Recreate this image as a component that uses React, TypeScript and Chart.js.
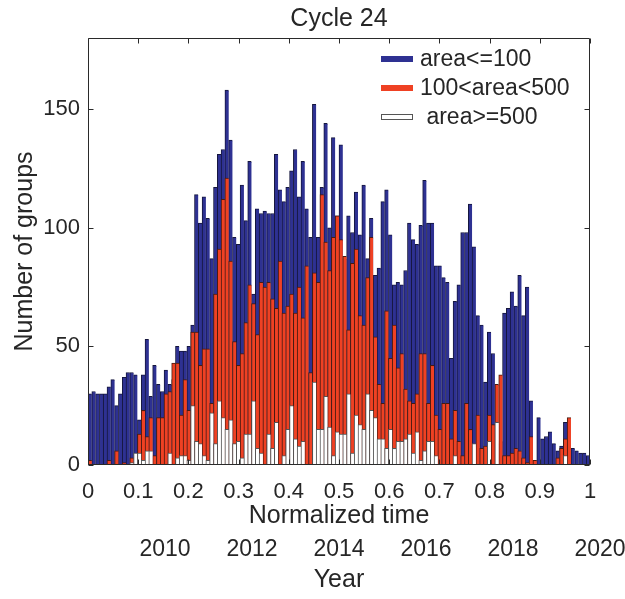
import React, { useEffect, useRef } from "react";
import { Chart, registerables } from "chart.js";

Chart.register(...registerables);

// ---- data (monthly counts of sunspot groups, cycle 24) ----
const areaSmall = [
  30, 31, 30, 30, 30, 33, 36, 25, 30, 37, 39, 39, 38, 19, 38, 53,
  29, 42, 34, 31, 40, 34, 36, 50, 48, 48, 50, 59, 114, 102, 113, 104,
  87, 117, 131, 133, 158, 137, 96, 93, 118, 103, 128, 72, 108, 106, 107, 106, 106,
  131, 116, 111, 117, 124, 133, 113, 128, 108, 96, 152, 96, 117, 144, 100, 138, 105,
  135, 87, 105, 98, 115, 97, 118, 87, 104, 80, 83, 111, 116, 97, 76, 77,
  76, 82, 102, 95, 93, 101, 120, 102, 102, 84, 84, 79, 77, 45, 69, 76, 98,
  98, 110, 92, 63, 59, 35, 56, 47, 9, 10, 64, 66, 73, 67, 80, 63, 75,
  27, 2, 20, 11, 12, 14, 9, 6, 8, 18, 6, 7, 6, 5, 5, 4,
];
const areaMid = [
  2, 0, 0, 0, 0, 2, 0, 6, 0, 1, 0, 3, 0, 13, 23, 12,
  20, 4, 20, 20, 30, 31, 43, 43, 21, 36, 23, 56, 56, 42, 49, 49,
  26, 72, 91, 112, 121, 86, 52, 42, 47, 60, 76, 68, 55, 77, 75, 77, 70,
  66, 86, 64, 67, 72, 64, 75, 62, 84, 39, 81, 77, 114, 94, 82, 96, 105,
  95, 88, 57, 85, 91, 63, 59, 79, 96, 54, 34, 26, 65, 45, 59, 41,
  47, 32, 27, 26, 30, 47, 47, 26, 42, 21, 15, 26, 26, 11, 23, 10, 4,
  26, 15, 8, 21, 7, 8, 21, 17, 34, 38, 4, 4, 5, 7, 6, 3, 1,
  12, 2, 0, 0, 0, 0, 0, 3, 7, 11, 20, 0, 0, 0, 0, 0,
];
const areaLarge = [
  0, 0, 0, 0, 0, 0, 0, 0, 0, 0, 0, 1, 5, 5, 2, 6,
  6, 0, 0, 0, 0, 5, 0, 3, 4, 4, 2, 25, 10, 9, 4, 2,
  22, 9, 27, 20, 15, 19, 9, 10, 3, 13, 13, 27, 7, 5, 0, 13, 7,
  18, 0, 4, 15, 25, 11, 8, 10, 0, 0, 35, 15, 15, 29, 16, 4, 14,
  13, 13, 30, 5, 21, 17, 15, 30, 23, 20, 11, 11, 7, 15, 7, 10,
  10, 11, 13, 5, 14, 2, 6, 10, 10, 4, 0, 0, 0, 0, 4, 0, 0,
  0, 0, 9, 0, 0, 0, 10, 0, 18, 0, 0, 0, 0, 0, 0, 0, 0,
  0, 0, 0, 0, 0, 0, 0, 0, 0, 4, 0, 0, 0, 0, 0, 0,
];
const seriesLabels = ["area<=100", "100<area<500", " area>=500"];
const monthIndex = areaSmall.map((_, i) => String(i + 1));
const normTicks = [0, 0.1, 0.2, 0.3, 0.4, 0.5, 0.6, 0.7, 0.8, 0.9, 1];
const yearTicks = [2010, 2012, 2014, 2016, 2018, 2020];
const yTicks = [0, 50, 100, 150];
const yearRange = [2008.23, 2019.77];
const yRange = [0, 180];

const FONT = "'Liberation Sans', Arial, Helvetica, sans-serif";
const TEXT = "#262626";
const FRAME = "#2a2a2a";

const framePlugin = {
  id: "frameTicks",
  afterDatasetsDraw(chart: any) {
    const { ctx, chartArea: a, scales } = chart;
    const L = Math.round(a.left) + 0.5;
    const R = Math.round(a.right) - 0.5;
    const T = Math.round(a.top) + 0.5;
    const B = Math.round(a.bottom) - 0.5;
    ctx.save();
    ctx.strokeStyle = FRAME;
    ctx.lineWidth = 1;
    ctx.beginPath();
    ctx.rect(L, T, R - L, B - T);
    const tl = 5;
    scales.y.ticks.forEach((t: any) => {
      const py = Math.round(scales.y.getPixelForValue(t.value)) + 0.5;
      ctx.moveTo(L, py);
      ctx.lineTo(L + tl, py);
      ctx.moveTo(R, py);
      ctx.lineTo(R - tl, py);
    });
    scales.xNorm.ticks.forEach((t: any) => {
      const px = Math.round(scales.xNorm.getPixelForValue(t.value)) + 0.5;
      ctx.moveTo(px, B);
      ctx.lineTo(px, B - tl);
      ctx.moveTo(px, T);
      ctx.lineTo(px, T + tl);
    });
    ctx.stroke();
    ctx.restore();
  },
};

const legendPlugin = {
  id: "cornerLegend",
  afterDraw(chart: any) {
    const { ctx, chartArea } = chart;
    const ds = chart.data.datasets;
    ctx.save();
    ctx.font = `23px ${FONT}`;
    ctx.textBaseline = "middle";
    ctx.textAlign = "left";
    const x0 = chartArea.right - 209;
    ds.forEach((d: any, i: number) => {
      const y = Math.round(chartArea.top + 21 + i * 29);
      ctx.fillStyle = d.backgroundColor;
      ctx.fillRect(x0, y - 2, 32, 4);
      ctx.strokeStyle = d.legendEdge;
      ctx.lineWidth = 1;
      ctx.strokeRect(x0 + 0.5, y - 2.5, 31, 5);
      ctx.fillStyle = TEXT;
      ctx.fillText(d.label, x0 + 39, y + 1);
    });
    ctx.restore();
  },
};

const nz = (v: number) => (v > 0 ? v : null);

export default function App() {
  const ref = useRef<HTMLCanvasElement | null>(null);
  useEffect(() => {
    if (!ref.current) return;
    const edge = { top: 1, left: 1, right: 0, bottom: 0 };
    const chart = new Chart(ref.current, {
      type: "bar",
      data: {
        labels: monthIndex,
        datasets: [
          {
            label: seriesLabels[0],
            data: areaSmall.map(nz),
            backgroundColor: "#2E3192",
            borderColor: "#15163d",
            legendEdge: "#2E3192",
            borderWidth: edge,
            grouped: false,
            barPercentage: 1,
            categoryPercentage: 1,
            order: 2,
          } as any,
          {
            label: seriesLabels[1],
            data: areaMid.map(nz),
            backgroundColor: "#EF4123",
            borderColor: "#4a1a10",
            legendEdge: "#EF4123",
            borderWidth: edge,
            grouped: false,
            barPercentage: 1,
            categoryPercentage: 1,
            order: 1,
          } as any,
          {
            label: seriesLabels[2],
            data: areaLarge.map(nz),
            backgroundColor: "#FFFFFF",
            borderColor: "#555555",
            legendEdge: "#555555",
            borderWidth: edge,
            grouped: false,
            barPercentage: 1,
            categoryPercentage: 1,
            order: 0,
          } as any,
        ],
      },
      options: {
        responsive: false,
        animation: false,
        layout: { padding: { left: 0, right: 35, top: 0, bottom: 0 } },
        plugins: {
          legend: { display: false },
          tooltip: { enabled: false },
          title: {
            display: true,
            text: "Cycle 24",
            fullSize: false,
            color: TEXT,
            font: { size: 25, family: FONT, weight: "normal" },
            padding: { top: 4, bottom: 4 },
          },
        },
        scales: {
          x: { type: "category", display: false },
          xNorm: {
            type: "linear",
            position: "bottom",
            offset: false,
            weight: 0,
            min: 0,
            max: 1,
            afterBuildTicks: (s: any) => {
              s.ticks = normTicks.map((v) => ({ value: v }));
            },
            afterFit: (s: any) => {
              s.height = 68;
              s.paddingLeft = 0;
              s.paddingRight = 0;
            },
            grid: { display: false, drawTicks: false, offset: false },
            border: { display: false },
            ticks: {
              autoSkip: false,
              maxRotation: 0,
              minRotation: 0,
              padding: 14,
              color: TEXT,
              font: { size: 22, family: FONT },
              callback: (v: any) => String(Math.round(Number(v) * 10) / 10),
            },
            title: {
              display: true,
              text: "Normalized time",
              color: TEXT,
              font: { size: 25, family: FONT },
              padding: { top: 0, bottom: 2 },
            },
          },
          xYear: {
            type: "linear",
            position: "bottom",
            offset: false,
            weight: 1,
            min: yearRange[0],
            max: yearRange[1],
            afterBuildTicks: (s: any) => {
              s.ticks = yearTicks.map((v) => ({ value: v }));
            },
            afterFit: (s: any) => {
              s.height = 66;
              s.paddingLeft = 0;
              s.paddingRight = 0;
            },
            grid: { display: false, drawTicks: false, offset: false },
            border: { display: false },
            ticks: {
              autoSkip: false,
              maxRotation: 0,
              minRotation: 0,
              padding: 3,
              color: TEXT,
              font: { size: 23, family: FONT },
              callback: (v: any) => String(v),
            },
            title: {
              display: true,
              text: "Year",
              color: TEXT,
              font: { size: 25, family: FONT },
              padding: { top: 0, bottom: 4 },
            },
          },
          y: {
            min: yRange[0],
            max: yRange[1],
            afterBuildTicks: (s: any) => {
              s.ticks = yTicks.map((v) => ({ value: v }));
            },
            afterFit: (s: any) => {
              s.width = 88;
              s.paddingTop = 0;
              s.paddingBottom = 0;
            },
            grid: { display: false, drawTicks: false },
            border: { display: false },
            ticks: {
              padding: 8,
              color: TEXT,
              font: { size: 22, family: FONT },
              callback: (v: any) => String(v),
            },
            title: {
              display: true,
              text: "Number of groups",
              color: TEXT,
              font: { size: 25, family: FONT },
              padding: { top: 10, bottom: 0 },
            },
          },
        },
      } as any,
      plugins: [framePlugin, legendPlugin],
    });
    return () => chart.destroy();
  }, []);

  return (
    <div
      style={{
        position: "fixed",
        left: 0,
        top: 0,
        width: 625,
        height: 599,
        background: "#ffffff",
      }}
    >
      <canvas ref={ref} width={625} height={599} style={{ display: "block", width: 625, height: 599 }} />
    </div>
  );
}
